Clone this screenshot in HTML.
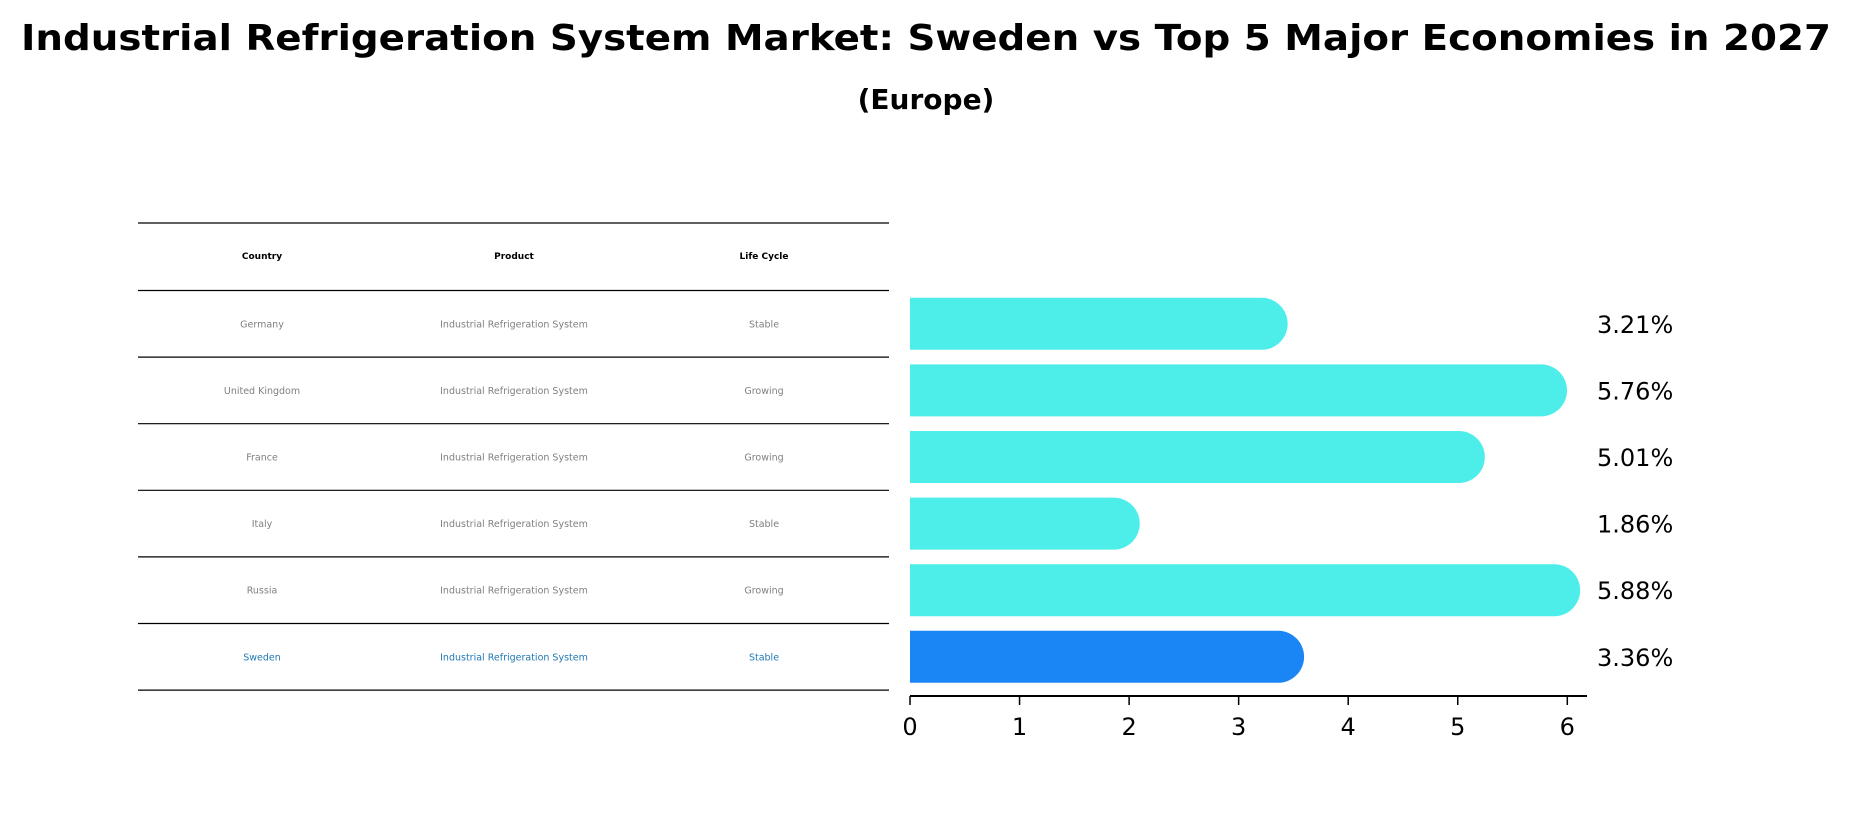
<!DOCTYPE html>
<html><head><meta charset="utf-8"><style>
html,body{margin:0;padding:0;background:#fff;}
svg{display:block;font-family:"DejaVu Sans","Liberation Sans",sans-serif;}
</style></head><body>
<svg id="chart" width="1852" height="823" viewBox="0 0 1852 823" xmlns="http://www.w3.org/2000/svg">
<text x="926" y="50" text-anchor="middle" font-size="36" font-weight="bold" textLength="1810" lengthAdjust="spacingAndGlyphs">Industrial Refrigeration System Market: Sweden vs Top 5 Major Economies in 2027</text>
<text x="926" y="109" text-anchor="middle" font-size="28" font-weight="bold">(Europe)</text>
<g id="table"></g>
<g id="bars"></g>
<g id="axis"></g>
</svg>
<script>
const countries = ["Germany","United Kingdom","France","Italy","Russia","Sweden"];
const products = ["Industrial Refrigeration System","Industrial Refrigeration System","Industrial Refrigeration System","Industrial Refrigeration System","Industrial Refrigeration System","Industrial Refrigeration System"];
const lifecycles = ["Stable","Growing","Growing","Stable","Growing","Stable"];
const values = [3.21,5.76,5.01,1.86,5.88,3.36];
const valueLabels = ["3.21%","5.76%","5.01%","1.86%","5.88%","3.36%"];
const ticks = [0,1,2,3,4,5,6];

const NS="http://www.w3.org/2000/svg";
function mk(tag,parent){const e=document.createElementNS(NS,tag);parent.appendChild(e);return e;}
const x0=910, unit=109.55;
const xScale=v=>x0+v*unit;
const rowTop=290.5, rowH=66.6;
const yCenter=i=>rowTop+rowH*i+rowH/2;

// table
const tbl=document.getElementById('table');
const colX=[262,514,764];
const headers=["Country","Product","Life Cycle"];
for(let k=0;k<=countries.length+1;k++){
  const yy = k===0?223:rowTop+rowH*(k-1);
  const l=mk('line',tbl);
  
  
  l.setAttribute('x1',138);l.setAttribute('x2',889);l.setAttribute('y1',yy);l.setAttribute('y2',yy);
  l.setAttribute('stroke','#000');l.setAttribute('stroke-width','1.2');
}
headers.forEach((h,c)=>{
  const t=mk('text',tbl);
  
  
  t.setAttribute('x',colX[c]);t.setAttribute('y',259);t.setAttribute('text-anchor','middle');
  t.setAttribute('font-size','9');t.setAttribute('font-weight','bold');t.textContent=h;
});
countries.forEach((cn,i)=>{
  const vals=[cn,products[i],lifecycles[i]];
  const col = cn==="Sweden"?"#1f77b4":"#808080";
  vals.forEach((v,c)=>{
    const t=mk('text',tbl);
    
    
    t.setAttribute('x',colX[c]);t.setAttribute('y',yCenter(i)+3.5);t.setAttribute('text-anchor','middle');
    t.setAttribute('font-size','9.5');t.setAttribute('fill',col);t.textContent=v;
  });
});

// bars
const bars=document.getElementById('bars');
const bh=52, r=26;
values.forEach((v,i)=>{
  const yc=yCenter(i);
  const xe=xScale(v);
  const p=mk('path',bars);
  
  
  p.setAttribute('d',`M${x0},${yc-bh/2} H${xe} A${r},${r} 0 0 1 ${xe},${yc+bh/2} H${x0} Z`);
  p.setAttribute('fill',countries[i]==="Sweden"?"#1a86f5":"#4deeea");
  const t=mk('text',bars);
  
  
  t.setAttribute('x',1597);t.setAttribute('y',yc+9);t.setAttribute('font-size','24');
  t.textContent=valueLabels[i];
});

// axis
const ax=document.getElementById('axis');
const al=mk('line',ax);


al.setAttribute('x1',x0);al.setAttribute('x2',1587);al.setAttribute('y1',696);al.setAttribute('y2',696);
al.setAttribute('stroke','#000');al.setAttribute('stroke-width','2');
ticks.forEach(tv=>{
  const x=xScale(tv);
  const tl=mk('line',ax);
  
  
  tl.setAttribute('x1',x);tl.setAttribute('x2',x);tl.setAttribute('y1',696);tl.setAttribute('y2',705);
  tl.setAttribute('stroke','#000');tl.setAttribute('stroke-width','1.5');
  const t=mk('text',ax);
  
  
  t.setAttribute('x',x);t.setAttribute('y',735);t.setAttribute('text-anchor','middle');t.setAttribute('font-size','24');
  t.textContent=tv;
});
</script>
</body></html>
